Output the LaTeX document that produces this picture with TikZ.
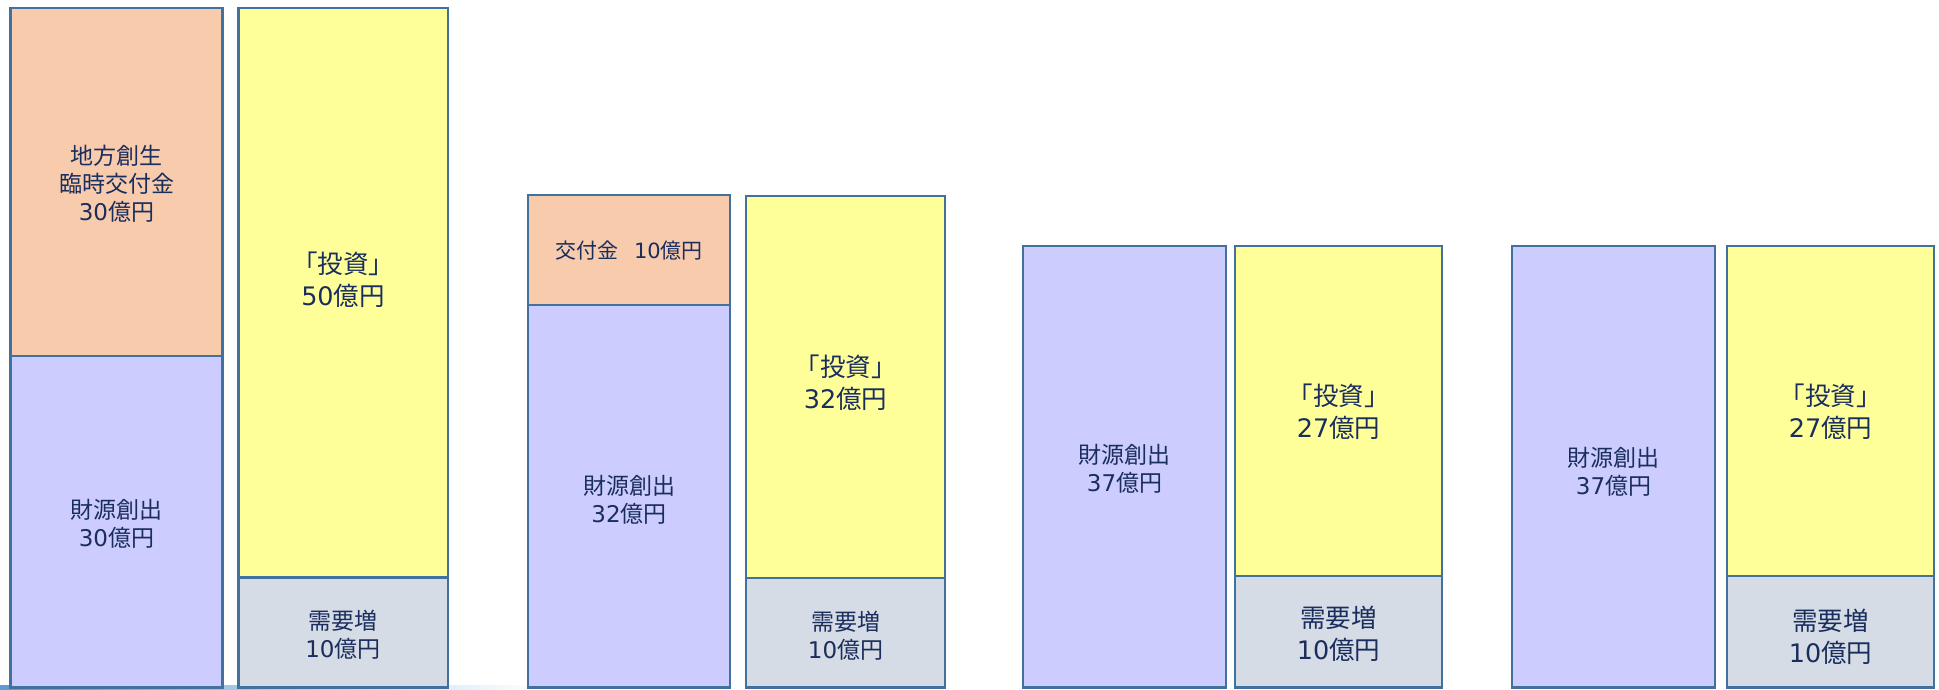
\documentclass[tikz,border=0pt]{standalone}
\usepackage{fontspec}
\setmainfont{Noto Sans CJK JP}
\newfontfamily\vd{DejaVu Sans}
\usetikzlibrary{calc}
\definecolor{bordc}{HTML}{41719C}
\definecolor{orfill}{HTML}{F8CBAD}
\definecolor{lvfill}{HTML}{CCCCFF}
\definecolor{ylfill}{HTML}{FFFF99}
\definecolor{gyfill}{HTML}{D6DCE5}
\definecolor{txtc}{HTML}{1A2E5E}
\definecolor{baseln}{HTML}{5B9BD5}
\newcommand\nm[1]{{\vd #1}}
\tikzset{
  bar/.style={draw=bordc, line width=2.5pt},
  lbl/.style={text=txtc, align=center, inner sep=0pt, font=\fontsize{23}{28}\selectfont},
  lblbig/.style={lbl, font=\fontsize{25.5}{32}\selectfont},
  lblsmall/.style={lbl, font=\fontsize{21}{26}\selectfont},
}
\begin{document}
\begin{tikzpicture}[x=1pt,y=-1pt]
\useasboundingbox[fill=white] (0,0) rectangle (1939,689);
% base line fading
\shade[left color=baseln, right color=white] (0,685.5) rectangle (540,689);
% bar 1
\draw[bar, fill=orfill] (10.5,8) rectangle (222.5,356);
\draw[bar, fill=lvfill] (10.5,356) rectangle (222.5,687.5);
% bar 2
\draw[bar, fill=ylfill] (238.5,8) rectangle (448,577.5);
\draw[bar, fill=gyfill] (238.5,577.5) rectangle (448,687.5);
% bar 3
\draw[bar, fill=orfill] (528,195) rectangle (730,305);
\draw[bar, fill=lvfill] (528,305) rectangle (730,687.5);
% bar 4
\draw[bar, fill=ylfill] (746,196) rectangle (945,578);
\draw[bar, fill=gyfill] (746,578) rectangle (945,687.5);
% bar 5
\draw[bar, fill=lvfill] (1023,246) rectangle (1226,687.5);
% bar 6
\draw[bar, fill=ylfill] (1235,246) rectangle (1442,576);
\draw[bar, fill=gyfill] (1235,576) rectangle (1442,687.5);
% bar 7
\draw[bar, fill=lvfill] (1512,246) rectangle (1715,687.5);
% bar 8
\draw[bar, fill=ylfill] (1727,246) rectangle (1934,576);
\draw[bar, fill=gyfill] (1727,576) rectangle (1934,687.5);
% labels
\node[lbl] (t1a) at (116.5,183.5) {地方創生\\臨時交付金\\\nm{30}億円};
\node[lbl] (t1b) at (116.5,524) {財源創出\\\nm{30}億円};
\node[lblbig] (t2a) at (343,280) {「投資」\\\nm{50}億円};
\node[lbl] (t2b) at (343,634.5) {需要増\\\nm{10}億円};
\node[lblsmall] (t3a) at (629,251) {交付金\hspace{0.75em}\nm{10}億円};
\node[lbl] (t3b) at (629,499.5) {財源創出\\\nm{32}億円};
\node[lblbig] (t4a) at (845.5,382.5) {「投資」\\\nm{32}億円};
\node[lbl] (t4b) at (845.5,636) {需要増\\\nm{10}億円};
\node[lbl] (t5) at (1124.5,469) {財源創出\\\nm{37}億円};
\node[lblbig] (t6a) at (1338.5,412) {「投資」\\\nm{27}億円};
\node[lblbig] (t6b) at (1338.5,634) {需要増\\\nm{10}億円};
\node[lbl] (t7) at (1613.5,472) {財源創出\\\nm{37}億円};
\node[lblbig] (t8a) at (1830.5,412) {「投資」\\\nm{27}億円};
\node[lblbig] (t8b) at (1830.5,637) {需要増\\\nm{10}億円};
\end{tikzpicture}
\end{document}
